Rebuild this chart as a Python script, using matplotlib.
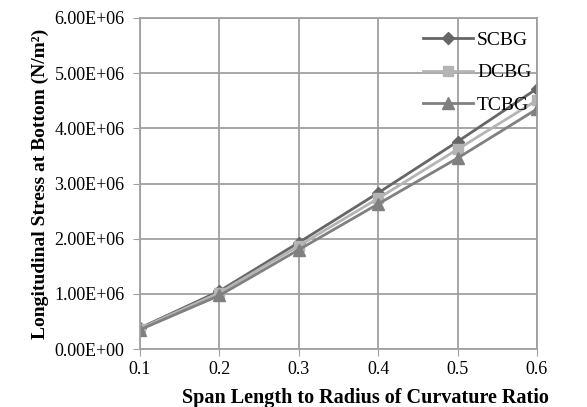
import matplotlib.pyplot as plt

ratio = [0.1, 0.2, 0.3, 0.4, 0.5, 0.6]
scbg = [0.38e6, 1.05e6, 1.93e6, 2.83e6, 3.76e6, 4.72e6]
dcbg = [0.37e6, 1.02e6, 1.87e6, 2.73e6, 3.62e6, 4.51e6]
tcbg = [0.35e6, 0.97e6, 1.80e6, 2.63e6, 3.46e6, 4.35e6]
yticks = [0, 1e6, 2e6, 3e6, 4e6, 5e6, 6e6]

plt.rcParams['font.family'] = ['Liberation Serif', 'DejaVu Serif']

fig = plt.figure(figsize=(5.87, 4.07), dpi=100)
ax = fig.add_axes([140 / 587, 1 - 349 / 407, 397 / 587, 331 / 407])

ax.plot(ratio, scbg, color='#666666', lw=2, marker='D', ms=6, label='SCBG')
ax.plot(ratio, dcbg, color='#b4b4b4', lw=2, marker='s', ms=7, label='DCBG')
ax.plot(ratio, tcbg, color='#808080', lw=2, marker='^', ms=8, label='TCBG')

ax.set_xlim(0.1, 0.6)
ax.set_ylim(0, 6e6)
ax.set_xticks(ratio)
ax.set_xticklabels([str(r) for r in ratio])
ax.set_yticks(yticks)
ax.set_yticklabels(['%.2fE+%02d' % (v / 1e6 if v else 0, 6 if v else 0) for v in yticks])
ax.grid(True, color='#a0a0a0', lw=1.3)
ax.set_axisbelow(True)
for s in ax.spines.values():
    s.set_color('#a0a0a0')
    s.set_linewidth(1.3)
ax.tick_params(axis='both', colors='#a0a0a0', labelcolor='black', labelsize=13, length=5)
ax.tick_params(axis='y', pad=6)

ax.set_xlabel('Span Length to Radius of Curvature Ratio', fontsize=14.5, fontweight='bold')
ax.xaxis.set_label_coords(0.567, -0.118)
ax.set_ylabel('Longitudinal Stress at Bottom (N/m²)', fontsize=14, fontweight='bold', labelpad=4)

ax.legend(loc='upper right', frameon=False, fontsize=14, labelspacing=0.75,
          handlelength=2.6, handletextpad=0.2, borderpad=0.2, bbox_to_anchor=(1.02, 1.0))

fig.savefig('out.png', dpi=100)
